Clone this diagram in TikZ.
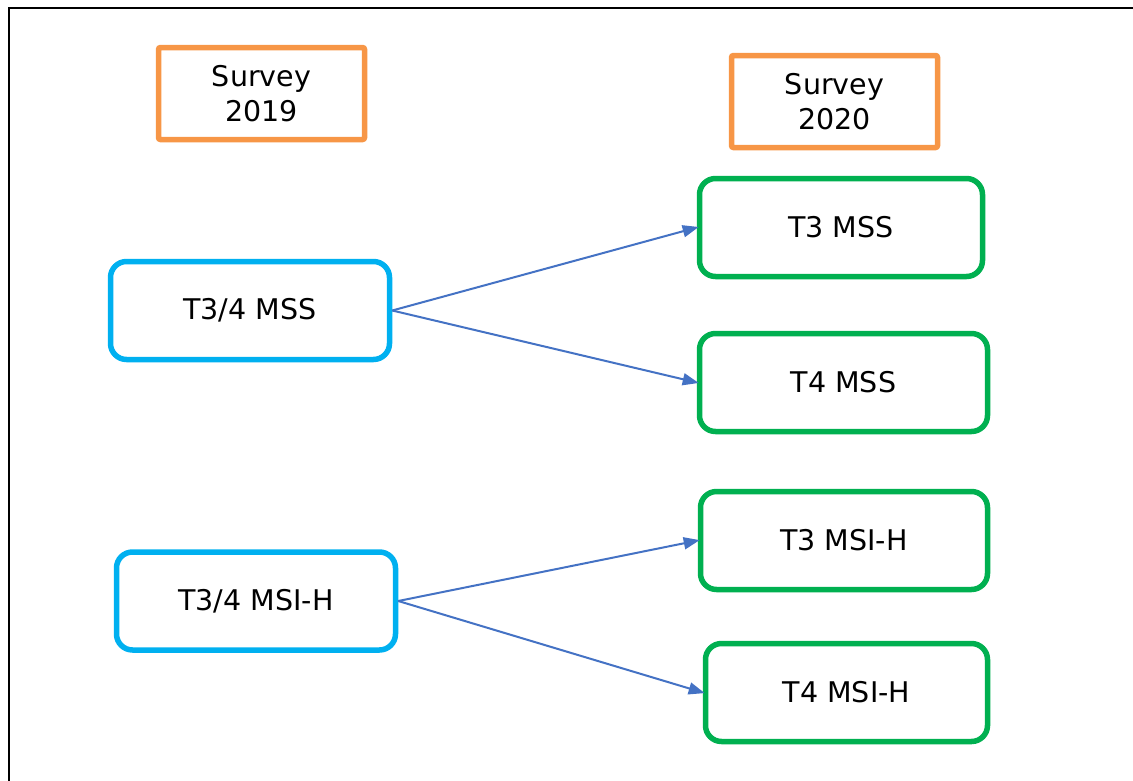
\documentclass[tikz,border=0pt]{standalone}
\usepackage{fontspec}
\setmainfont{DejaVu Sans}
\usetikzlibrary{arrows.meta}
\definecolor{surveyorange}{RGB}{247,150,70}
\definecolor{cohortblue}{RGB}{0,176,240}
\definecolor{outcomegreen}{RGB}{0,176,80}
\definecolor{linkblue}{RGB}{68,114,196}
\tikzset{
  every node/.style={font=\fontsize{28.5}{35}\selectfont, inner sep=0pt, align=center},
  surveybox/.style={draw=surveyorange, line width=5.5pt, rounded corners=2pt,
    minimum width=206pt, minimum height=92pt},
  cohortbox/.style={draw=cohortblue, line width=5.5pt, rounded corners=16pt,
    minimum width=279pt, minimum height=98pt},
  outcomebox/.style={draw=outcomegreen, line width=5.5pt, rounded corners=16pt,
    minimum height=98pt},
  link/.style={draw=linkblue, line width=2pt,
    -{Triangle[length=16pt,width=12pt]}, shorten >=-2pt},
}
\begin{document}
\begin{tikzpicture}[x=1pt,y=-1pt]
\useasboundingbox (0,0) rectangle (1133,780);
% outer frame, running off the right and bottom edges
\draw[line width=2.2pt] (9,8) rectangle (1150,800);

% survey headers
\node[surveybox] (s19) at (261.5,93.5) {Survey\\2019};
\node[surveybox] (s20) at (834.5,101.5) {Survey\\2020};

% 2019 cohorts
\node[cohortbox] (mss) at (250,310.5) {T3/4 MSS};
\node[cohortbox] (msi) at (256,601) {T3/4 MSI-H};

% 2020 outcomes
\node[outcomebox, minimum width=283pt] (t3mss) at (841,227.5) {T3 MSS};
\node[outcomebox, minimum width=288pt] (t4mss) at (843.5,382.5) {T4 MSS};
\node[outcomebox, minimum width=287pt] (t3msi) at (844,540.5) {T3 MSI-H};
\node[outcomebox, minimum width=282pt] (t4msi) at (846.5,692.5) {T4 MSI-H};

% transitions
\draw[link] (mss.east) -- (t3mss.west);
\draw[link] (mss.east) -- (t4mss.west);
\draw[link] (msi.east) -- (t3msi.west);
\draw[link] (msi.east) -- (t4msi.west);
\end{tikzpicture}
\end{document}
